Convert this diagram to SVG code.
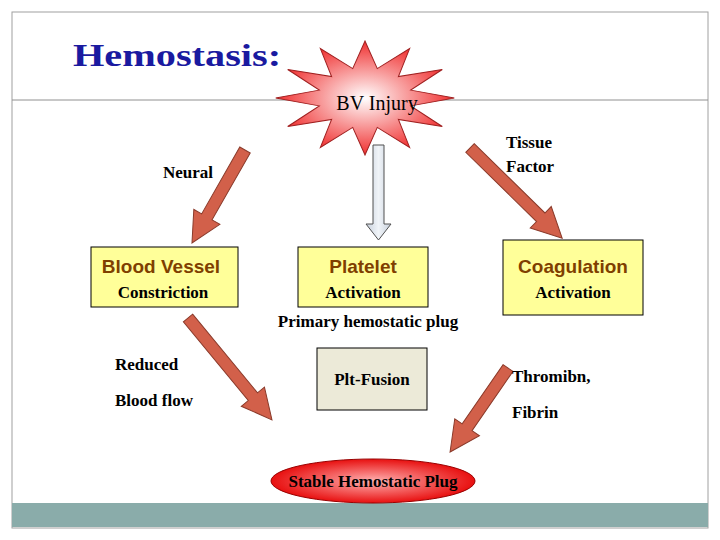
<svg xmlns="http://www.w3.org/2000/svg" width="720" height="540" viewBox="0 0 720 540">
<style>
.box{fill:#ffff99;stroke:#000;stroke-width:1}
.t{font-family:"Liberation Serif",serif;font-weight:bold;font-size:17px;fill:#000}
.h{font-family:"Liberation Sans",sans-serif;font-weight:bold;font-size:19px;fill:#7f3f00}
.arr{fill:#d2604a;stroke:#8a3a2a;stroke-width:1}
</style>
<defs>
<radialGradient id="sg" cx="0.5" cy="0.5" r="0.5"><stop offset="0" stop-color="#ffffff"/><stop offset="1" stop-color="#f03030"/></radialGradient>
<radialGradient id="og" cx="0.5" cy="0.5" r="0.5"><stop offset="0" stop-color="#ffb0b0"/><stop offset="1" stop-color="#e81010"/></radialGradient>
<linearGradient id="gg" x1="0" y1="0" x2="1" y2="0"><stop offset="0" stop-color="#c8d0dc"/><stop offset="0.5" stop-color="#f0f4f8"/><stop offset="1" stop-color="#c8d0dc"/></linearGradient>
</defs>
<rect x="12" y="12" width="696" height="516" fill="#fff" stroke="#a0a0a0"/>
<line x1="12" y1="100" x2="708" y2="100" stroke="#909090"/>
<rect x="12" y="503" width="696" height="24" fill="#8aacaa"/>
<text transform="translate(73,66) scale(1.3,1)" x="0" y="0" font-family="Liberation Serif,serif" font-weight="bold" font-size="31" fill="#1a1aa0">Hemostasis:</text>
<g id="injury">
<polygon fill="url(#sg)" stroke="#a02020" transform="translate(365,98) scale(1.05,0.95) translate(-365,-98)" points="450,98 408.5,89.7 438.6,68 396.8,75.4 407.5,46 376.7,67.1 365,38 353.3,67.1 322.5,46 333.2,75.4 291.4,68 321.5,89.7 280,98 321.5,106.3 291.4,128 333.2,120.6 322.5,150 353.3,128.9 365,158 376.7,128.9 407.5,150 396.8,120.6 438.6,128 408.5,106.3"/>
<text x="377" y="110" text-anchor="middle" font-family="Liberation Serif,serif" font-size="20">BV Injury</text>
</g>
<g id="connectors">
<polygon class="arr" transform="translate(245,150) rotate(119.7)" points="0,-6 77,-6 77,-15 107,0 77,15 77,6 0,6"/>
<polygon class="arr" transform="translate(470,148) rotate(44.4)" points="0,-6 99,-6 99,-15 129,0 99,15 99,6 0,6"/>
<polygon class="arr" transform="translate(188,318) rotate(50.5)" points="0,-6 102,-6 102,-15 132,0 102,15 102,6 0,6"/>
<polygon class="arr" transform="translate(508,368) rotate(124.6)" points="0,-6 72,-6 72,-15 102,0 72,15 72,6 0,6"/>
<polygon fill="url(#gg)" stroke="#505050" points="373,145 384,145 384,224 391,224 378.5,240 366,224 373,224"/>
</g>
<g id="neural"><text class="t" x="163" y="178">Neural</text></g>
<g id="tissue"><text class="t" x="506" y="148">Tissue</text><text class="t" x="506" y="172">Factor</text></g>
<g id="bloodvessel">
<rect class="box" x="91" y="247" width="147" height="60"/>
<text class="h" x="161" y="273" text-anchor="middle">Blood Vessel</text>
<text class="t" x="163" y="298" text-anchor="middle">Constriction</text>
</g>
<g id="platelet">
<rect class="box" x="298" y="247" width="130" height="60"/>
<text class="h" x="363" y="273" text-anchor="middle">Platelet</text>
<text class="t" x="363" y="298" text-anchor="middle">Activation</text>
</g>
<g id="coag">
<rect class="box" x="503" y="240" width="140" height="75"/>
<text class="h" x="573" y="273" text-anchor="middle">Coagulation</text>
<text class="t" x="573" y="298" text-anchor="middle">Activation</text>
</g>
<text class="t" x="368" y="327" text-anchor="middle">Primary hemostatic plug</text>
<text class="t" x="115" y="370">Reduced</text>
<text class="t" x="115" y="406">Blood flow</text>
<g id="fusion">
<rect x="317" y="348" width="110" height="62" fill="#ecead8" stroke="#000"/>
<text class="t" x="372" y="385" text-anchor="middle">Plt-Fusion</text>
</g>
<text class="t" x="512" y="382">Thromibn,</text>
<text class="t" x="512" y="418">Fibrin</text>
<g id="plug">
<ellipse cx="373" cy="481" rx="102" ry="22" fill="url(#og)" stroke="#900"/>
<text class="t" x="373" y="487" text-anchor="middle">Stable  Hemostatic Plug</text>
</g>
</svg>
